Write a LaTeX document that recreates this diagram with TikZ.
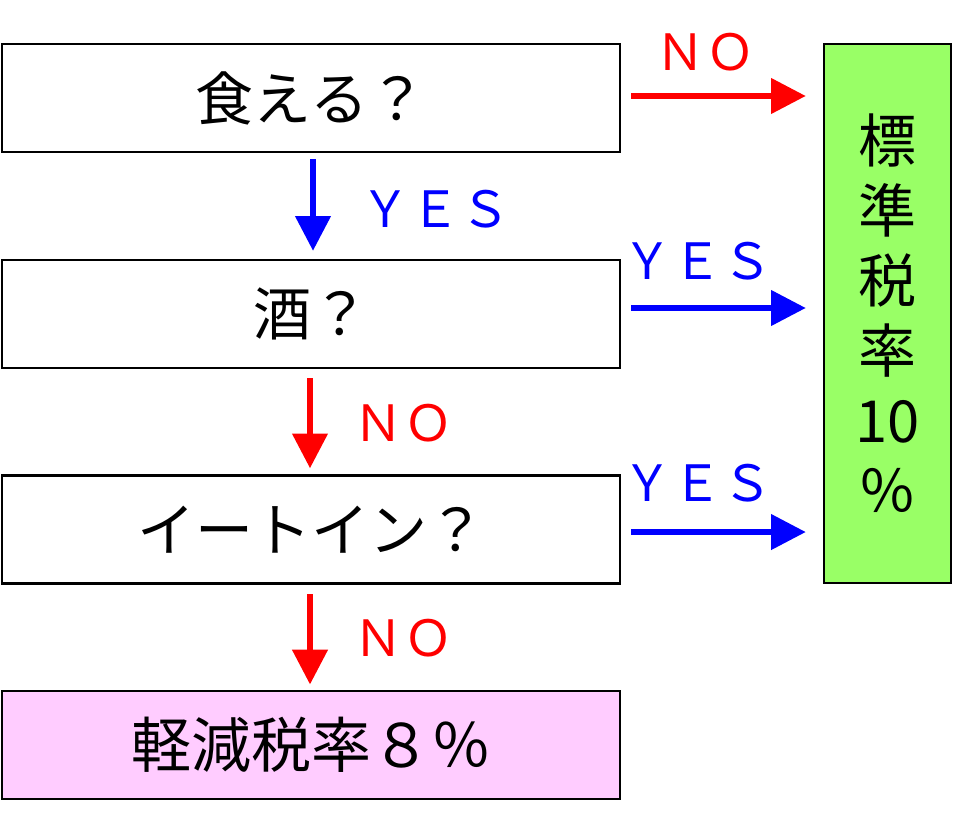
\documentclass[tikz,border=0pt]{standalone}
\usepackage{fontspec}
\setmainfont{Noto Sans CJK JP}
\usetikzlibrary{arrows.meta}
\definecolor{lgreen}{HTML}{99FF66}
\definecolor{lpink}{HTML}{FFCCFF}
\definecolor{pred}{HTML}{FF0000}
\definecolor{pblue}{HTML}{0000FF}
\begin{document}
\begin{tikzpicture}[x=0.75pt,y=-0.75pt,
  box/.style={draw=black, line width=1.9pt, minimum width=463.5pt, minimum height=81pt,
    inner sep=0pt, font=\fontsize{43.5}{50}\selectfont},
  tallbox/.style={draw=black, line width=1.9pt, fill=lgreen, minimum width=95.25pt,
    minimum height=404.25pt, inner sep=0pt, align=center,
    font=\fontsize{43.5}{52.5}\selectfont},
  arr/.style={line width=4pt, -{Triangle[length=26pt,width=26pt]}},
  lab/.style={font=\fontsize{37.5}{40}\selectfont, inner sep=0pt}
]
\useasboundingbox[fill=white] (0,0) rectangle (960,830);

\node[box] (b1) at (311,98) {食える？};
\node[box] (b2) at (311,314) {酒？};
\node[box] (b3) at (311,529.5) {イートイン？};
\node[box, fill=lpink, font=\fontsize{45}{50}\selectfont] (b4) at (311,745) {軽減税率８％};
\node[tallbox] (g) at (887.5,313.5) {標\\準\\税\\率\\10\\％};

% vertical arrows
\draw[arr, pblue, shorten <=4.5pt, shorten >=6pt] ([xshift=1.5pt]b1.south) -- ([xshift=1.5pt]b2.north);
\draw[arr, pred, shorten <=6.75pt, shorten >=4.5pt] ([xshift=-0.75pt]b2.south) -- ([xshift=-0.75pt]b3.north);
\draw[arr, pred, shorten <=7pt, shorten >=4pt] ([xshift=-0.75pt]b3.south) -- ([xshift=-0.75pt]b4.north);

% horizontal arrows
\draw[arr, pred, shorten <=7.5pt, shorten >=12.75pt] ([yshift=1.5pt]b1.east) -- ([yshift=1.5pt]b1.east -| g.west);
\draw[arr, pblue, shorten <=7.5pt, shorten >=12.75pt] ([yshift=4.5pt]b2.east) -- ([yshift=4.5pt]b2.east -| g.west);
\draw[arr, pblue, shorten <=7.5pt, shorten >=12.75pt] ([yshift=-1.9pt]b3.east) -- ([yshift=-1.9pt]b3.east -| g.west);

% labels
\node[lab, text=pred] (n1) at (705,52) {ＮＯ};
\node[lab, text=pblue] (y1) at (435,209) {ＹＥＳ};
\node[lab, text=pblue] (y2) at (697,261) {ＹＥＳ};
\node[lab, text=pred] (n2) at (403,423) {ＮＯ};
\node[lab, text=pblue] (y3) at (697,483) {ＹＥＳ};
\node[lab, text=pred] (n3) at (403,638) {ＮＯ};
\end{tikzpicture}
\end{document}
